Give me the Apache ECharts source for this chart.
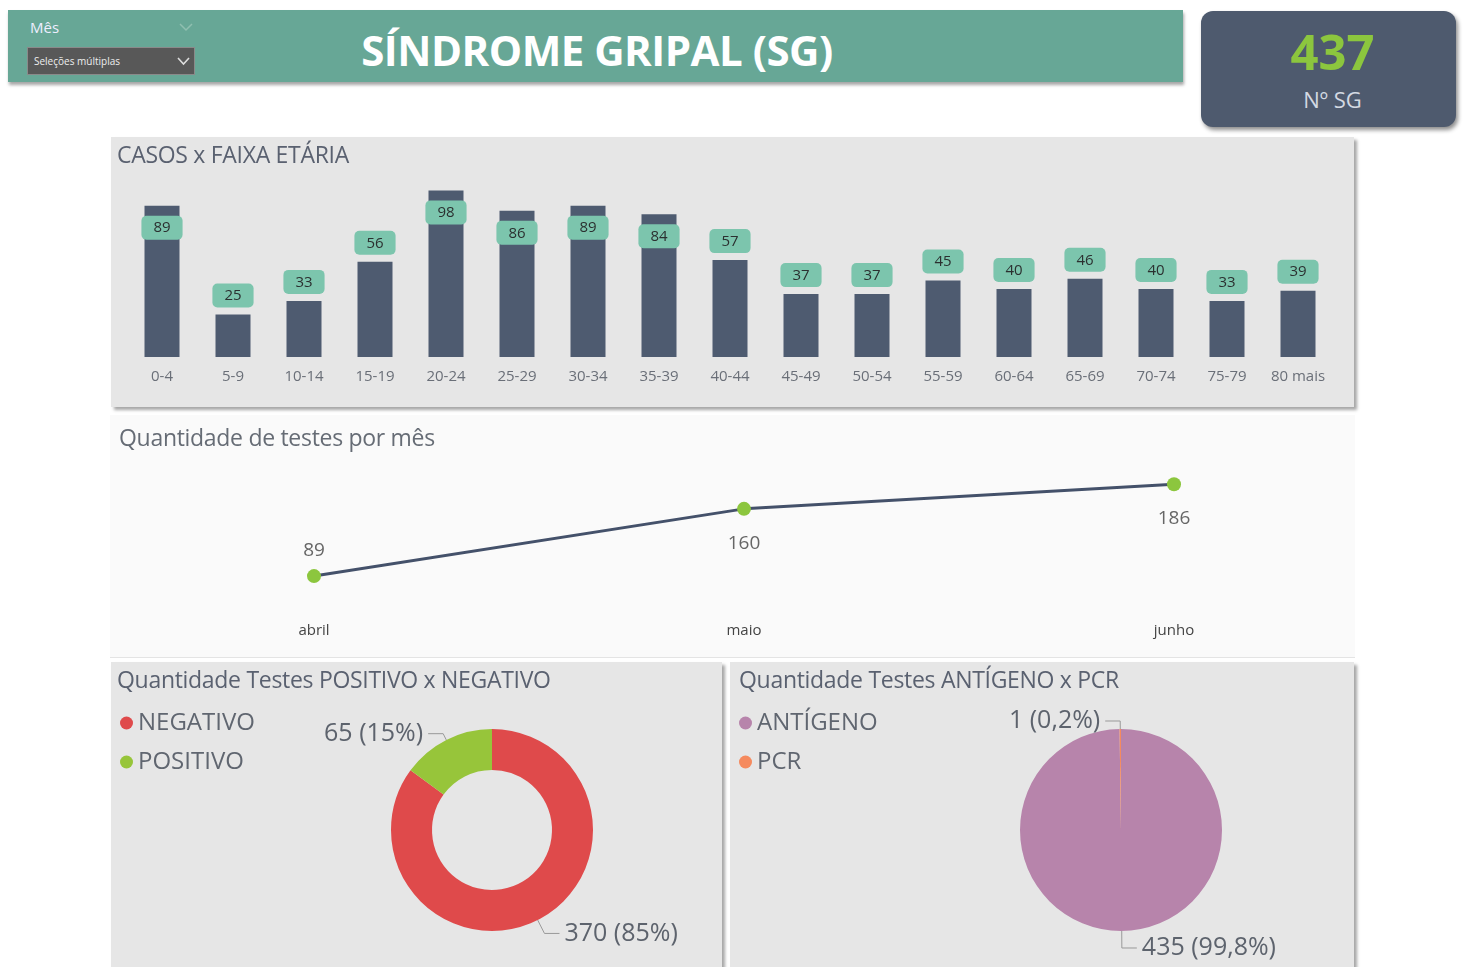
<!DOCTYPE html>
<html>
<head>
<meta charset="utf-8">
<title>Síndrome Gripal (SG)</title>
<script src="https://cdn.jsdelivr.net/npm/echarts@6/dist/echarts.min.js"></script>
<style>
  body { margin: 0; background: #fff; font-family: "Open Sans", "Noto Sans", sans-serif; }
  #page { position: relative; width: 1466px; height: 967px; overflow: hidden; }
  .abs { position: absolute; }
  .header { left: 8px; top: 10px; width: 1175px; height: 72px; background: #67a796; box-shadow: 1px 3px 3px rgba(0,0,0,0.35); }
  .header-title { left: 0; top: 10px; width: 1194px; height: 80px; line-height: 80px; text-align: center; color: #fff; font-weight: 700; font-size: 42px; letter-spacing: -0.5px; }
  .mes { left: 30px; top: 17px; color: #eef; font-size: 15px; }
  .dropdown { left: 27px; top: 47px; width: 166px; height: 26px; background: #585858; border: 1px solid #8a8a8a; color: #eee; font-size: 10px; line-height: 26px; }
  .kpi { left: 1201px; top: 11px; width: 255px; height: 116px; background: #4e5a6e; border-radius: 12px; box-shadow: 2px 3px 4px rgba(0,0,0,0.45); text-align: center; }
  .kpi-value { position: absolute; left: 4px; width: 100%; top: 10px; color: #8cc63e; font-weight: 700; font-size: 49px; line-height: 60px; }
  .kpi-label { position: absolute; left: 4px; width: 100%; top: 73px; color: #d4d9e2; font-size: 22px; line-height: 30px; }
  .panel { background: #e6e6e6; box-shadow: 3px 3px 3px rgba(0,0,0,0.35); }
  .ptitle { position: absolute; left: 6px; top: 2px; color: #5a6170; font-size: 23px; line-height: 30px; white-space: nowrap; letter-spacing: -0.3px; }
  .chart { position: absolute; left: 0; top: 0; width: 100%; height: 100%; }
</style>
</head>
<body>
<div id="page">
  <div class="abs header"></div>
  <div class="abs header-title">SÍNDROME GRIPAL (SG)</div>
  <div class="abs mes">Mês</div>
  <svg class="abs" style="left:178px;top:22px" width="16" height="10"><polyline points="2,2 8,8 14,2" fill="none" stroke="#8fbfb0" stroke-width="1.5"/></svg>
  <div class="abs dropdown"><span style="margin-left:6px">Seleções múltiplas</span>
    <svg style="position:absolute;left:149px;top:9px" width="13" height="9"><polyline points="1,1 6.5,7 12,1" fill="none" stroke="#ddd" stroke-width="1.6"/></svg>
  </div>

  <div class="abs kpi">
    <div class="kpi-value">437</div>
    <div class="kpi-label">Nº SG</div>
  </div>

  <div class="abs panel" style="left:111px;top:137px;width:1243px;height:270px;">
    <div id="barChart" class="chart"></div>
    <div class="ptitle">CASOS x FAIXA ETÁRIA</div>
  </div>

  <div class="abs" style="left:110px;top:415px;width:1245px;height:242px;background:#fafafa;border-bottom:1px solid #e4e4e4;">
    <div id="lineChart" class="chart"></div>
    <div class="ptitle" style="left:9px;top:7px;color:#666c75;">Quantidade de testes por mês</div>
  </div>

  <div class="abs panel" style="left:111px;top:662px;width:611px;height:320px;">
    <div id="pieResult" class="chart" style="height:305px"></div>
    <div class="ptitle">Quantidade Testes POSITIVO x NEGATIVO</div>
  </div>

  <div class="abs panel" style="left:730px;top:662px;width:624px;height:320px;">
    <div id="pieType" class="chart" style="height:305px"></div>
    <div class="ptitle" style="left:9px">Quantidade Testes ANTÍGENO x PCR</div>
  </div>
</div>

<script>
// casos por faixa etária
const faixas = ['0-4', '5-9', '10-14', '15-19', '20-24', '25-29', '30-34', '35-39', '40-44',
  '45-49', '50-54', '55-59', '60-64', '65-69', '70-74', '75-79', '80 mais'];
const casos = [89, 25, 33, 56, 98, 86, 89, 84, 57, 37, 37, 45, 40, 46, 40, 33, 39];

// testes por mês
const meses = ['abril', 'maio', 'junho'];
const testesMes = [89, 160, 186];

// resultado dos testes
const resultadoNomes = ['NEGATIVO', 'POSITIVO'];
const resultadoValores = [370, 65];

// tipo de teste
const tipoNomes = ['ANTÍGENO', 'PCR'];
const tipoValores = [435, 1];

const FONT = '"Open Sans", "Noto Sans", sans-serif';

const barChart = echarts.init(document.getElementById('barChart'));
barChart.setOption({
  animation: false,
  grid: { left: 15.5, right: 20.5, top: 50, bottom: 50 },
  xAxis: {
    type: 'category',
    data: faixas,
    axisLine: { show: false },
    axisTick: { show: false },
    axisLabel: { color: '#6a6f78', fontSize: 15, margin: 12, fontFamily: FONT }
  },
  yAxis: { type: 'value', min: 0, max: 100, show: false, splitLine: { show: false } },
  series: [{
    type: 'bar',
    barWidth: 35,
    data: casos.map(v => ({
      value: v,
      label: v >= 80 ? { position: 'insideTop', distance: 10 } : { position: 'top', distance: 7 }
    })),
    itemStyle: { color: '#4e5b70' },
    label: {
      show: true,
      color: '#2b3030',
      fontSize: 15,
      fontFamily: FONT,
      backgroundColor: '#7cc5ad',
      borderRadius: 5,
      padding: [5, 12, 4, 12]
    }
  }]
});

const lineChart = echarts.init(document.getElementById('lineChart'));
const lineLabelPos = ['top', 'bottom', 'bottom'];
lineChart.setOption({
  animation: false,
  grid: { left: 204, right: 181, top: 56, bottom: 44 },
  xAxis: {
    type: 'category',
    boundaryGap: false,
    data: meses,
    axisLine: { show: false },
    axisTick: { show: false },
    axisLabel: { color: '#444', fontSize: 15, margin: 10, fontFamily: FONT }
  },
  yAxis: { type: 'value', min: 50, max: 200, show: false, splitLine: { show: false } },
  series: [{
    type: 'line',
    data: testesMes.map((v, i) => ({
      value: v,
      label: { position: lineLabelPos[i], distance: lineLabelPos[i] === 'top' ? 9 : 18 }
    })),
    symbol: 'circle',
    symbolSize: 14,
    lineStyle: { color: '#44516a', width: 3 },
    itemStyle: { color: '#8cc63e' },
    label: { show: true, color: '#666', fontSize: 19, fontFamily: FONT }
  }]
});

function pieOption(names, values, colors, precision, opts) {
  return {
    animation: false,
    legend: {
      orient: 'vertical',
      left: 4,
      top: 44,
      icon: 'circle',
      itemWidth: 13,
      itemHeight: 13,
      itemGap: 15,
      textStyle: { color: '#606670', fontSize: 24, fontFamily: FONT }
    },
    color: colors,
    series: [{
      type: 'pie',
      center: opts.center,
      radius: opts.radius,
      startAngle: 90,
      clockwise: true,
      percentPrecision: precision,
      avoidLabelOverlap: false,
      data: names.map((n, i) => ({ name: n, value: values[i], labelLine: { length: opts.l1[i] } })),
      label: {
        color: '#5d636d',
        fontSize: 25,
        fontFamily: FONT,
        formatter: p => p.value + ' (' + String(p.percent).replace('.', ',') + '%)'
      },
      labelLine: { length2: opts.l2, lineStyle: { color: '#999', width: 1 } }
    }]
  };
}

const pieResult = echarts.init(document.getElementById('pieResult'));
pieResult.setOption(pieOption(resultadoNomes, resultadoValores, ['#df4a4b', '#97c53a'], 0,
  { center: [381, 168], radius: [60, 101], l1: [15, 7], l2: 15 }));

const pieType = echarts.init(document.getElementById('pieType'));
pieType.setOption(pieOption(tipoNomes, tipoValores, ['#b784ab', '#f58a5e'], 1,
  { center: [391, 168], radius: [0, 101], l1: [17, 8], l2: 15 }));
</script>
</body>
</html>
